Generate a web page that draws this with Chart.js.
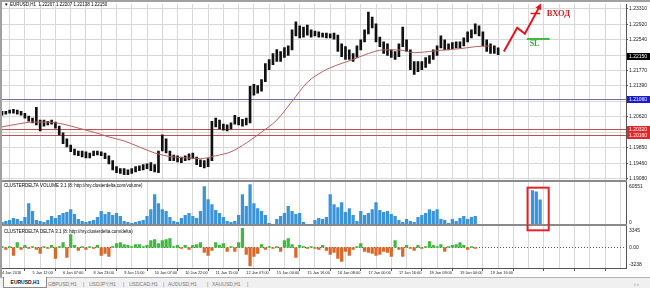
<!DOCTYPE html>
<html>
<head>
<meta charset="utf-8">
<script src="https://cdn.jsdelivr.net/npm/chart.js@4.4.1/dist/chart.umd.min.js"></script>
<style>
  html, body { margin: 0; padding: 0; background: #fff; }
  #wrap { position: relative; width: 650px; height: 288px; overflow: hidden; font-family: "Liberation Sans", Arial, sans-serif; }
  #chart { position: absolute; left: 0; top: 0; }
  #tabs { position: absolute; left: 0; top: 277px; width: 650px; height: 11px; background: #f0f0f0; border-top: 1px solid #b4b4b4; font-size: 5px; color: #777; }
  #tabs span { position: absolute; top: 3px; white-space: nowrap; line-height: 6px; }
  #tabs span.active { top: -1px; height: 10px; width: 42px; line-height: 10px; background: #fff; border: 1px solid #8c8c8c; border-top: none; color: #111; font-weight: bold; text-align: center; }
</style>
</head>
<body>
<div id="wrap">
  <canvas id="chart" width="650" height="278"></canvas>
  <div id="tabs"></div>
</div>
<script>
// EURUSD H1. One sample = 2 hourly bars.
const hoursPerSample = 2;
const xLabels = ["4 Jan 2016", "5 Jan 12:00", "6 Jan 07:00", "8 Jan 23:00", "9 Jan 15:00",
  "10 Jan 07:00", "10 Jan 22:00", "11 Jan 15:00", "12 Jan 07:00", "15 Jan 00:00", "15 Jan 16:00",
  "16 Jan 08:00", "17 Jan 00:00", "17 Jan 16:00", "18 Jan 08:00", "19 Jan 00:00", "19 Jan 16:00"];

const highs = [
  1.2076, 1.2076, 1.2079, 1.2081, 1.2079, 1.2076, 1.2071, 1.2064, 1.2059, 1.2086,
  1.2054, 1.2054, 1.2051, 1.2054, 1.2049, 1.2039, 1.2022, 1.2007, 1.1992, 1.1982,
  1.1977, 1.1977, 1.1975, 1.1972, 1.1977, 1.1977, 1.1975, 1.1972, 1.1965, 1.1953,
  1.1938, 1.1933, 1.1933, 1.1930, 1.1933, 1.1938, 1.1940, 1.1943, 1.1945, 1.1948,
  1.1943, 1.1977, 1.2017, 1.2007, 1.1977, 1.1967, 1.1965, 1.1962, 1.1965, 1.1970,
  1.1972, 1.1962, 1.1955, 1.1953, 1.1958, 1.2051, 1.2059, 1.2054, 1.2044, 1.2042,
  1.2047, 1.2066, 1.2061, 1.2056, 1.2059, 1.2138, 1.2143, 1.2140, 1.2155, 1.2195,
  1.2205, 1.2220, 1.2230, 1.2225, 1.2235, 1.2239, 1.2279, 1.2299, 1.2289, 1.2286,
  1.2291, 1.2279, 1.2276, 1.2274, 1.2271, 1.2271, 1.2269, 1.2271, 1.2266, 1.2244,
  1.2237, 1.2229, 1.2220, 1.2239, 1.2254, 1.2279, 1.2323, 1.2311, 1.2294, 1.2261,
  1.2249, 1.2244, 1.2229, 1.2225, 1.2244, 1.2286, 1.2254, 1.2229, 1.2200, 1.2200,
  1.2200, 1.2210, 1.2215, 1.2229, 1.2239, 1.2264, 1.2254, 1.2244, 1.2247, 1.2249,
  1.2249, 1.2259, 1.2274, 1.2279, 1.2294, 1.2289, 1.2274, 1.2254, 1.2244, 1.2239, 1.2234];

const lows = [
  1.2066, 1.2069, 1.2071, 1.2071, 1.2069, 1.2066, 1.2059, 1.2051, 1.2047, 1.2042,
  1.2027, 1.2039, 1.2042, 1.2044, 1.2034, 1.2017, 1.1995, 1.1987, 1.1975, 1.1967,
  1.1965, 1.1962, 1.1960, 1.1960, 1.1965, 1.1967, 1.1965, 1.1958, 1.1945, 1.1930,
  1.1923, 1.1921, 1.1918, 1.1918, 1.1921, 1.1925, 1.1928, 1.1930, 1.1933, 1.1928,
  1.1925, 1.1923, 1.1977, 1.1972, 1.1953, 1.1953, 1.1950, 1.1948, 1.1953, 1.1955,
  1.1958, 1.1943, 1.1938, 1.1935, 1.1938, 1.1953, 1.2037, 1.2032, 1.2029, 1.2027,
  1.2032, 1.2044, 1.2042, 1.2039, 1.2042, 1.2047, 1.2116, 1.2121, 1.2126, 1.2150,
  1.2180, 1.2192, 1.2200, 1.2200, 1.2210, 1.2215, 1.2229, 1.2264, 1.2259, 1.2261,
  1.2266, 1.2261, 1.2264, 1.2261, 1.2261, 1.2259, 1.2259, 1.2256, 1.2225, 1.2212,
  1.2205, 1.2205, 1.2200, 1.2210, 1.2229, 1.2249, 1.2269, 1.2284, 1.2249, 1.2237,
  1.2220, 1.2215, 1.2210, 1.2205, 1.2212, 1.2237, 1.2225, 1.2180, 1.2168, 1.2175,
  1.2180, 1.2185, 1.2195, 1.2205, 1.2215, 1.2234, 1.2229, 1.2229, 1.2232, 1.2234,
  1.2234, 1.2239, 1.2249, 1.2259, 1.2269, 1.2264, 1.2239, 1.2225, 1.2220, 1.2220, 1.2217];

// moving average, one value every 8 hours
const maStep = 8;
const maValues = [
  1.2037, 1.2044, 1.2049, 1.2049, 1.2044, 1.2034, 1.2024, 1.2012, 1.2002, 1.1987,
  1.1972, 1.1963, 1.1960, 1.1958, 1.1965, 1.1975, 1.1997, 1.2024, 1.2054, 1.2101,
  1.2148, 1.2175, 1.2192, 1.2205, 1.2220, 1.2229, 1.2229, 1.2222, 1.2225, 1.2229,
  1.2232, 1.2237, 1.2239];

const volumes = [
  4400, 5900, 7400, 10300, 8900, 5900, 11800, 32500, 20700, 7400,
  5900, 4400, 7400, 13300, 10300, 14800, 17700, 19200, 23600, 16200,
  8900, 5900, 4400, 5900, 7400, 11800, 20700, 16200, 19200, 14800,
  17700, 13300, 5900, 4400, 3000, 4400, 5900, 7400, 13300, 23600,
  45800, 32500, 23600, 20700, 11800, 5900, 4400, 10300, 14800, 17700,
  13300, 10300, 20700, 57600, 38400, 31000, 22200, 17700, 11800, 5900,
  4400, 5900, 14800, 45800, 28100, 60551, 32500, 25100, 20700, 14800,
  3000, 1500, 8900, 13300, 17700, 28100, 20700, 16200, 17700, 4400,
  1500, 1500, 7400, 10300, 8900, 11800, 45800, 31000, 26600, 34000,
  19200, 25100, 14800, 5900, 20700, 14800, 17700, 23600, 34000, 22200,
  19200, 20700, 16200, 13300, 7400, 4400, 8900, 5900, 4400, 11800,
  14800, 17700, 23600, 20700, 23600, 8900, 7400, 3000, 8900, 5900,
  10300, 13300, 8900, 11800, 13300,
  null, null, null, null, null, null, null, null, null, null, null, null, null, null,
  51700, 50000, 38000];

const deltas = [
  170, -350, 170, -1380, 870, -350, 350, -170, 170, -350,
  -1040, 170, -170, 350, -1900, 170, 870, -1730, 2250, 350,
  -520, 170, -350, 170, -170, 350, -1380, -1040, -1560, 170,
  690, 870, 520, 350, 170, 520, 520, 170, 350, 1210,
  1380, 690, 1210, 1380, 1560, 170, 350, -170, 350, -350,
  350, 520, 870, -870, -1380, -520, 870, 350, 690, -690,
  170, -690, 870, 3345, -1210, -3238, -1560, -1040, 520, -350,
  170, -170, 170, -690, 1210, 1560, 520, -1730, 350, 170,
  -170, 170, -170, -350, 350, -520, -1210, -870, -1900, -2420,
  -690, -1380, -350, 170, 690, -690, -870, -1040, -1380, -1210,
  -690, -870, -1560, 1210, -350, -1560, 350, -170, -520, 350,
  -170, 170, 1040, 350, 170, 520, -690, 170, 350, 520,
  870, 350, -350, 170, -170];

const priceTicks = [1.19080, 1.19460, 1.19850, 1.20230, 1.20620, 1.21000,
  1.21390, 1.21770, 1.22150, 1.22540, 1.22920, 1.23310];
const quote = ["1.22207", "1.22207", "1.22138", "1.22150"];
const lastPrice = 1.22150;
const blueLevel = 1.21060;
const redLevels = [1.20320, 1.20160];
const volumeMax = 60551;
const deltaMax = 3345;
const deltaMin = -3238;

// hand drawn marks, in (hour, price)
const entryArrow = [[263, 1.2225], [270, 1.2284], [274, 1.2269], [282, 1.2340]];
const entryMark = { from: 277, to: 282, price: 1.2321 };
const slLine = { from: 275, to: 287, price: 1.2257 };
const entryText = { x: 285.5, price: 1.2319, text: "ВХОД" };
const slText = { x: 276.5, price: 1.2243, text: "SL" };
const volumeBox = [275.4, 286.5];

const tabNames = ["EURUSD,H1", "GBPUSD,H1", "USDJPY,H1", "USDCAD,H1", "AUDUSD,H1", "XAUUSD,H1"];

const FONT = '"Liberation Sans", Arial, sans-serif';

const candles = highs.map((h, i) => ({ x: i * hoursPerSample, y: [lows[i], h] }));
const ma = maValues.map((v, k) => ({ x: k * maStep, y: v }));
const vol = volumes.map((v, i) => (v == null ? null : { x: i * hoursPerSample, y: v })).filter(Boolean);
const del = deltas.map((v, i) => ({ x: i * hoursPerSample, y: v }));

function hline(ctx, x1, x2, y) {
  y = Math.round(y) + 0.5;
  ctx.beginPath();
  ctx.moveTo(x1, y);
  ctx.lineTo(x2, y);
  ctx.stroke();
}

function tag(ctx, x, y, text, bg) {
  y = Math.round(y);
  ctx.fillStyle = bg;
  ctx.fillRect(x, y - 3, 650 - x, 7);
  ctx.fillStyle = "#fff";
  ctx.fillText(text, x + 2, y + 0.5);
}

const mtPlugin = {
  id: "mt",
  beforeDatasetsDraw(chart) {
    const { ctx, chartArea: a, scales: { yMain, yDelta } } = chart;
    ctx.save();
    ctx.lineWidth = 1;
    ctx.strokeStyle = "#6e6ea8";
    hline(ctx, a.left, a.right, yMain.getPixelForValue(blueLevel));
    ctx.strokeStyle = "#c84c4c";
    redLevels.forEach((p) => hline(ctx, a.left, a.right, yMain.getPixelForValue(p)));
    ctx.strokeStyle = "#555";
    ctx.setLineDash([1, 2]);
    hline(ctx, a.left, a.right, yDelta.getPixelForValue(0));
    ctx.restore();
  },
  afterDraw(chart) {
    const { ctx, chartArea: a, scales: { x, yMain, yVol, yDelta } } = chart;
    ctx.save();

    // pane separators and window frame
    ctx.fillStyle = "#8a8a8a";
    ctx.fillRect(a.left, Math.round(yVol.top) - 1, a.right - a.left + 1, 2);
    ctx.fillRect(a.left, Math.round(yDelta.top) - 1, a.right - a.left + 1, 2);
    ctx.fillStyle = "#a0a0a0";
    ctx.fillRect(0, 0, 650, 2);
    ctx.fillRect(0, 0, 2, chart.height);

    // titles
    ctx.textBaseline = "middle";
    ctx.fillStyle = "#000";
    ctx.font = `4.5px ${FONT}, "DejaVu Sans"`;
    ctx.fillText("▼", 4, 5);
    ctx.fillText("EURUSD,H1  " + quote.join(" "), 10, 5);
    ctx.fillText("CLUSTERDELTA VOLUME 3.1 (8: http://my.clusterdelta.com/volume)", 4, yVol.top + 5);
    ctx.fillText("CLUSTERDELTA DELTA 3.1 (8: http://my.clusterdelta.com/delta)", 4, yDelta.top + 6);

    // sub-pane scale labels
    ctx.font = `5px ${FONT}`;
    ctx.fillStyle = "#222";
    const lx = a.right + 3;
    ctx.fillText(String(volumeMax), lx, yVol.getPixelForValue(volumeMax) + 2);
    ctx.fillText("0", lx, yVol.bottom - 3);
    ctx.fillText(String(deltaMax), lx, yDelta.getPixelForValue(deltaMax) + 2);
    ctx.fillText("0.00", lx, yDelta.getPixelForValue(0));
    ctx.fillText(String(deltaMin), lx, yDelta.getPixelForValue(deltaMin) - 1);

    // price tags on the axis
    tag(ctx, a.right + 1, yMain.getPixelForValue(lastPrice), lastPrice.toFixed(5), "#000");
    tag(ctx, a.right + 1, yMain.getPixelForValue(blueLevel), blueLevel.toFixed(5), "#1c1ccc");
    redLevels.forEach((p) => tag(ctx, a.right + 1, yMain.getPixelForValue(p), p.toFixed(5), "#e02828"));

    // entry arrow
    const pt = (p) => [x.getPixelForValue(p[0]), yMain.getPixelForValue(p[1])];
    ctx.strokeStyle = "#e8121c";
    ctx.fillStyle = "#e8121c";
    ctx.lineWidth = 2;
    ctx.beginPath();
    entryArrow.forEach((p, i) => {
      const [u, v] = pt(p);
      if (i) ctx.lineTo(u, v); else ctx.moveTo(u, v);
    });
    ctx.stroke();
    const [x1, y1] = pt(entryArrow[entryArrow.length - 2]);
    const [x2, y2] = pt(entryArrow[entryArrow.length - 1]);
    const ang = Math.atan2(y2 - y1, x2 - x1);
    ctx.beginPath();
    ctx.moveTo(x2 + 2 * Math.cos(ang), y2 + 2 * Math.sin(ang));
    ctx.lineTo(x2 - 4 * Math.cos(ang) + 3 * Math.sin(ang), y2 - 4 * Math.sin(ang) - 3 * Math.cos(ang));
    ctx.lineTo(x2 - 4 * Math.cos(ang) - 3 * Math.sin(ang), y2 - 4 * Math.sin(ang) + 3 * Math.cos(ang));
    ctx.closePath();
    ctx.fill();
    ctx.lineWidth = 1.5;
    hline(ctx, x.getPixelForValue(entryMark.from), x.getPixelForValue(entryMark.to), yMain.getPixelForValue(entryMark.price));
    ctx.font = `bold 8.5px "Liberation Serif", serif`;
    ctx.fillStyle = "#cc2229";
    ctx.fillText(entryText.text, x.getPixelForValue(entryText.x), yMain.getPixelForValue(entryText.price));

    // stop loss
    ctx.strokeStyle = "#3fba3f";
    ctx.lineWidth = 2;
    const sy = Math.round(yMain.getPixelForValue(slLine.price));
    ctx.beginPath();
    ctx.moveTo(x.getPixelForValue(slLine.from), sy);
    ctx.lineTo(x.getPixelForValue(slLine.to), sy);
    ctx.stroke();
    ctx.font = `bold 8px "Liberation Serif", serif`;
    ctx.fillStyle = "#3aa83a";
    ctx.fillText(slText.text, x.getPixelForValue(slText.x), yMain.getPixelForValue(slText.price));

    // highlight box round the last volume burst
    ctx.strokeStyle = "#e3222a";
    ctx.lineWidth = 2;
    const bx1 = x.getPixelForValue(volumeBox[0]);
    const bx2 = x.getPixelForValue(volumeBox[1]);
    ctx.strokeRect(bx1, yVol.top + 7, bx2 - bx1, yDelta.top + 5 - (yVol.top + 7));

    ctx.restore();
  },
};

const sideAxis = (scale) => { scale.width = 24; };

new Chart(document.getElementById("chart"), {
  type: "bar",
  data: {
    datasets: [
      { type: "line", label: "MA", data: ma, yAxisID: "yMain", borderColor: "#b5625c", borderWidth: 1,
        pointRadius: 0, tension: 0.4, cubicInterpolationMode: "monotone", fill: false },
      { label: "EURUSD,H1", data: candles, yAxisID: "yMain", backgroundColor: "#111", barThickness: 2, grouped: false },
      { label: "Volume", data: vol, yAxisID: "yVol", backgroundColor: "#3a94da", barThickness: 2.6, grouped: false },
      { label: "Delta", data: del, yAxisID: "yDelta", barThickness: 2.6, grouped: false,
        backgroundColor: (c) => (c.raw && c.raw.y < 0 ? "#d9692b" : "#41b941") },
    ],
  },
  options: {
    responsive: false,
    animation: false,
    devicePixelRatio: 1,
    layout: { padding: { top: 2, left: 2, right: 0, bottom: 0 } },
    plugins: { legend: { display: false }, tooltip: { enabled: false } },
    scales: {
      x: {
        type: "linear",
        min: 0,
        max: 327,
        offset: false,
        afterBuildTicks: (s) => {
          s.ticks = [];
          for (let v = 0; v <= 320; v += 8) s.ticks.push({ value: v });
        },
        afterFit: (s) => { s.height = 10; },
        ticks: {
          autoSkip: false,
          maxRotation: 0,
          align: "start",
          padding: 0,
          color: "#222",
          font: { family: FONT, size: 3.9 },
          callback: (v) => (v % 16 === 0 ? xLabels[v / 16] || "" : ""),
        },
        grid: {
          color: "#d8d8d8",
          tickLength: 3,
          tickColor: (c) => (c.tick && c.tick.value % 16 === 0 ? "#555" : "rgba(0,0,0,0)"),
        },
        border: { color: "#555" },
      },
      yMain: {
        type: "linear",
        position: "right",
        stack: "panes",
        stackWeight: 178,
        min: 1.19030,
        max: 1.23434,
        afterBuildTicks: (s) => { s.ticks = priceTicks.map((v) => ({ value: v })); },
        afterFit: sideAxis,
        ticks: {
          autoSkip: false,
          padding: 1,
          color: "#222",
          font: { family: FONT, size: 5 },
          callback: (v) => v.toFixed(5),
        },
        grid: { color: "#d8d8d8", tickLength: 2, tickColor: "#555" },
        border: { color: "#555" },
      },
      yVol: {
        type: "linear",
        position: "right",
        stack: "panes",
        stackWeight: 45,
        min: 0,
        max: 66500,
        afterFit: sideAxis,
        ticks: { display: false },
        grid: { display: false },
        border: { color: "#555" },
      },
      yDelta: {
        type: "linear",
        position: "right",
        stack: "panes",
        stackWeight: 43,
        min: -3581,
        max: 3858,
        afterFit: sideAxis,
        ticks: { display: false },
        grid: { display: false },
        border: { color: "#555" },
      },
    },
  },
  plugins: [mtPlugin],
});

// terminal tabs
const tabX = [3, 48, 89, 129, 168, 212];
const sepX = [83, 123, 163, 207, 247];
const tabsEl = document.getElementById("tabs");
tabNames.forEach((name, i) => {
  const s = document.createElement("span");
  s.textContent = name;
  s.style.left = tabX[i] + "px";
  if (i === 0) s.className = "active";
  tabsEl.appendChild(s);
});
sepX.forEach((x) => {
  const s = document.createElement("span");
  s.textContent = "|";
  s.style.left = x + "px";
  tabsEl.appendChild(s);
});
const nav = document.createElement("span");
nav.textContent = "‹  ›";
nav.style.left = "634px";
tabsEl.appendChild(nav);
</script>
</body>
</html>
